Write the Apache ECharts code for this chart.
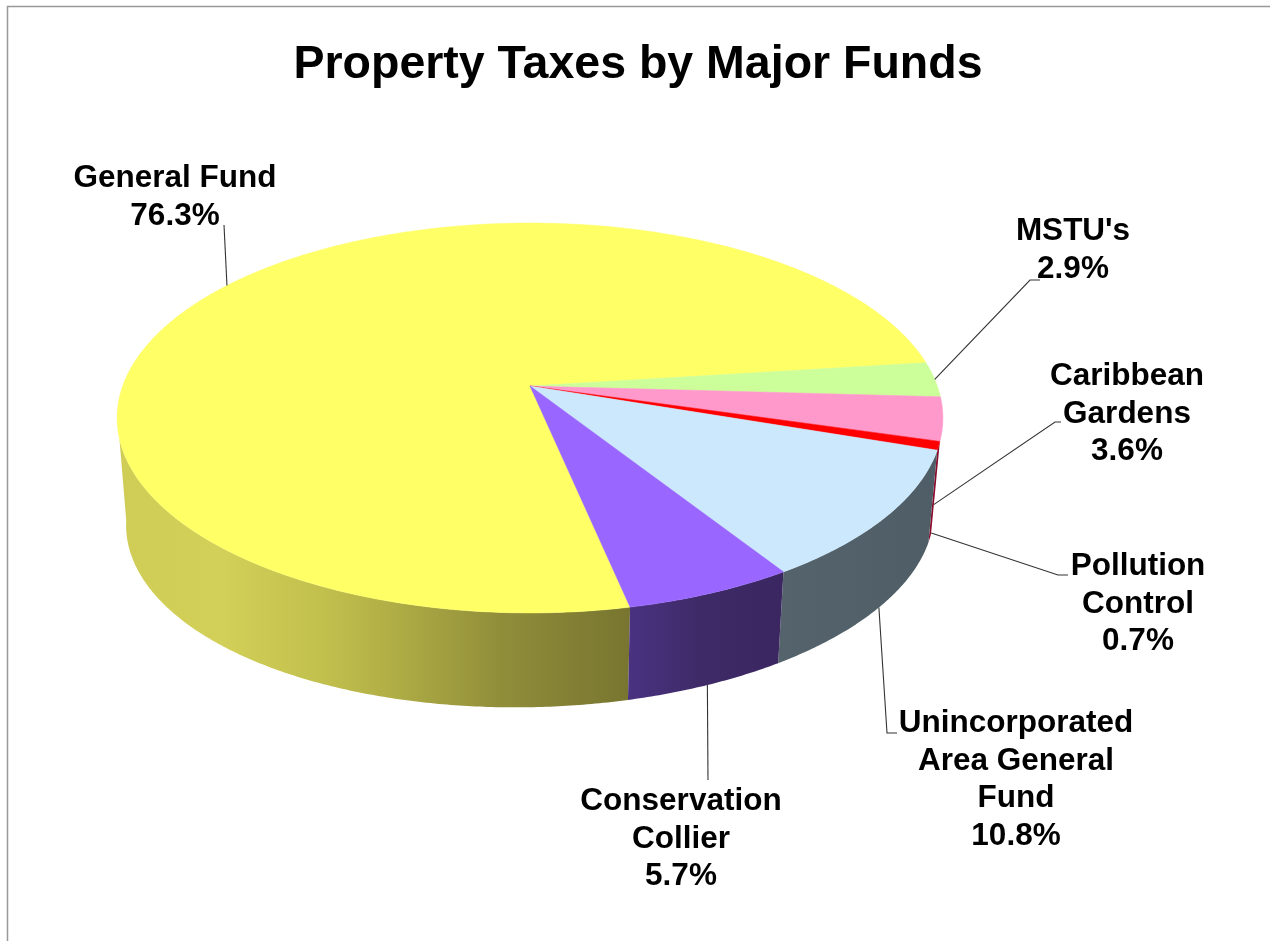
<!DOCTYPE html>
<html>
<head>
<meta charset="utf-8">
<style>html,body{margin:0;padding:0;background:#fff;overflow:hidden}#c{width:1270px;height:941px}</style>
<script src="https://cdn.jsdelivr.net/npm/echarts@6/dist/echarts.min.js"></script>
</head>
<body>
<div id="c"></div>
<script>
// Data
var categories = ['General Fund', "MSTU's", 'Caribbean\nGardens', 'Pollution\nControl', 'Unincorporated\nArea General\nFund', 'Conservation\nCollier'];
var shares = [76.3, 2.9, 3.6, 0.7, 10.8, 5.7];

// Styles
var topColors = ['#ffff66', '#ccff99', '#ff99cc', '#ff0000', '#cce8fc', '#9966ff'];
var wallStops = [
  [[0,'#cfcd55'],[0.2,'#d2d058'],[0.4,'#c2c04d'],[0.52,'#b2b046'],[0.75,'#908d3a'],[1,'#787530']],
  null, null,
  [[0,'#8a0c2c'],[1,'#8a0c2c']],
  [[0,'#55646c'],[1,'#4f5e66']],
  [[0,'#4a3281'],[0.5,'#3e2a66'],[1,'#3a2660']]
];

// Layout: leader ring, angle nudge, elbow points, label centre and first-line top
var leaderRing = ['top', 'top', 'bottom', 'bottom', 'bottom', 'bottom'];
var leaderNudge = [0, 0, 2.2, 1.5, 0, 0];
var leaderElbows = [
  [[224, 225]],
  [[1030, 280], [1040, 280]],
  [[1055, 422], [1061, 422]],
  [[1058, 575], [1068, 575]],
  [[887, 733], [897, 733]],
  [[708, 780]]
];
var labelAnchors = [[175, 160], [1073, 213], [1127, 358], [1138, 548], [1016, 705], [681, 783]];

// Projection of the disc (perspective): top and bottom rings
var topRing = {cx: 530, cy: 386, a: 407.3, b: 189.7, k: 0.164, shear: 0};
var botRing = {cx: 530, cy: 487, a: 398.4, b: 183.9, k: 0.165, shear: -0.017};
var START = -78.1, WALL_RIGHT = -16.2, WALL_LEFT_TOP = -164.7, WALL_LEFT_BOT = -172;

function project(ring, deg) {
  var t = deg * Math.PI / 180, x = Math.cos(t), y = Math.sin(t), w = 1 + ring.k * y;
  var dx = ring.a * x / w;
  return [ring.cx + dx, ring.cy - ring.b * y / w + ring.shear * dx];
}
function arc(ring, from, to) {
  var pts = [], n = Math.max(2, Math.ceil(Math.abs(to - from) / 0.5));
  for (var i = 0; i <= n; i++) pts.push(project(ring, from + (to - from) * i / n));
  return pts;
}
var total = shares.reduce(function (s, v) { return s + v; }, 0);
function span(i) {
  var before = 0;
  for (var j = 0; j < i; j++) before += shares[j];
  return [START - before / total * 360, START - (before + shares[i]) / total * 360];
}
function normalised(i) {
  var sp = span(i);
  if (sp[0] < START - 274) return [sp[0] + 360, sp[1] + 360];
  return sp;
}

var rows = categories.map(function (c, i) { return [c, shares[i], i]; });

function renderWall(params, api) {
  var i = api.value(2);
  if (!wallStops[i]) return {type: 'group', children: []};
  var sp = normalised(i);
  var from = Math.min(sp[0], WALL_RIGHT);
  var toTop = Math.max(sp[1], WALL_LEFT_TOP), toBot = Math.max(sp[1], WALL_LEFT_BOT);
  if (from - toTop < 0.01) return {type: 'group', children: []};
  var pts = arc(topRing, from, toTop).concat(arc(botRing, toBot, from));
  var grad = new echarts.graphic.LinearGradient(0, 0, 1, 0, wallStops[i].map(function (s) {
    return {offset: s[0], color: s[1]};
  }));
  return {type: 'polygon', shape: {points: pts}, style: {fill: grad, stroke: null}};
}
function renderTop(params, api) {
  var i = api.value(2), sp = span(i);
  var pts = [[topRing.cx, topRing.cy]].concat(arc(topRing, sp[0], sp[1]));
  return {type: 'polygon', shape: {points: pts},
    style: {fill: topColors[i], stroke: topColors[i], lineWidth: 0.5}};
}
function renderLabel(params, api) {
  var i = api.value(2), sp = normalised(i), mid = (sp[0] + sp[1]) / 2 + leaderNudge[i];
  var start = project(leaderRing[i] === 'top' ? topRing : botRing, mid);
  var line = [start].concat(leaderElbows[i]);
  return {type: 'group', children: [
    {type: 'polyline', shape: {points: line}, style: {stroke: '#333333', lineWidth: 1.1, fill: null}},
    {type: 'text', style: {
      text: api.value(0) + '\n' + api.value(1).toFixed(1) + '%',
      x: labelAnchors[i][0], y: labelAnchors[i][1],
      align: 'center', verticalAlign: 'top',
      font: 'bold 31.5px "Liberation Sans", Arial, sans-serif',
      lineHeight: 37.4, fill: '#000'
    }}
  ]};
}

var chart = echarts.init(document.getElementById('c'), null, {renderer: 'canvas', width: 1270, height: 941});
chart.setOption({
  animation: false,
  backgroundColor: '#ffffff',
  title: {
    text: 'Property Taxes by Major Funds', left: 633, top: 37, textAlign: 'center',
    textStyle: {fontFamily: '"Liberation Sans", Arial, sans-serif', fontWeight: 'bold', fontSize: 46.5, color: '#000'}
  },
  graphic: [
    {type: 'line', shape: {x1: 7, y1: 6.5, x2: 1270, y2: 6.5}, style: {stroke: '#999', lineWidth: 1.5}},
    {type: 'line', shape: {x1: 7.5, y1: 6, x2: 7.5, y2: 941}, style: {stroke: '#999', lineWidth: 1.5}}
  ],
  series: [
    {type: 'custom', coordinateSystem: 'none', silent: true, z: 1, data: rows, renderItem: renderWall},
    {type: 'custom', coordinateSystem: 'none', silent: true, z: 2, data: rows, renderItem: renderTop},
    {type: 'custom', coordinateSystem: 'none', silent: true, z: 3, data: rows, renderItem: renderLabel,
     encode: {itemName: 0, value: 1}, dimensions: ['name', 'share', 'index']}
  ]
});
</script>
</body>
</html>
